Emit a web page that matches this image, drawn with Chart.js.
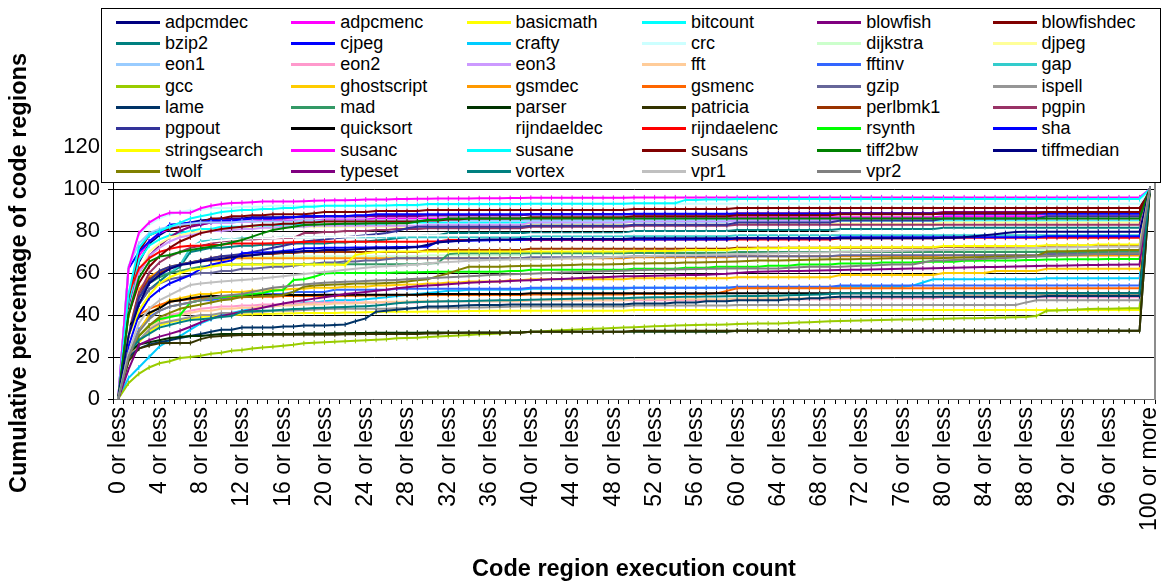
<!DOCTYPE html>
<html>
<head>
<meta charset="utf-8">
<script src="https://cdn.jsdelivr.net/npm/chart.js@4.4.1/dist/chart.umd.min.js"></script>
<style>
html,body{margin:0;padding:0;background:#fff;}
#wrap{position:relative;width:1163px;height:584px;font-family:"Liberation Sans",Arial,sans-serif;}
#c{position:absolute;left:0;top:0;}
#legend{position:absolute;left:101px;top:8px;width:1058px;height:173px;border:1px solid #000;background:#fff;z-index:2;}
.item{position:absolute;height:20px;line-height:20px;font-size:18px;color:#000;white-space:nowrap;}
.item .sw{position:absolute;left:0;top:9px;width:44px;height:3px;}
.item span{position:absolute;left:49px;top:0;}
</style>
</head>
<body>
<div id="wrap">
  <canvas id="c" width="1163" height="584"></canvas>
  <div id="legend"></div>
</div>
<script>
// Execution-count bins: "0 or less" ... "99 or less", then the open-ended top bin
const categories = [];
for (let k = 0; k < 100; k++) categories.push(k + ' or less');
categories.push('100 or more');

const yTicks = [0, 20, 40, 60, 80, 100, 120];

const seriesNames = ['adpcmdec','adpcmenc','basicmath','bitcount','blowfish','blowfishdec','bzip2','cjpeg','crafty','crc','dijkstra','djpeg','eon1','eon2','eon3','fft','fftinv','gap','gcc','ghostscript','gsmdec','gsmenc','gzip','ispell','lame','mad','parser','patricia','perlbmk1','pgpin','pgpout','quicksort','rijndaeldec','rijndaelenc','rsynth','sha','stringsearch','susanc','susane','susans','tiff2bw','tiffmedian','twolf','typeset','vortex','vpr1','vpr2'];

const seriesColors = ['#000080','#FF00FF','#FFFF00','#00FFFF','#800080','#800000','#008080','#0000FF','#00CCFF','#CCFFFF','#CCFFCC','#FFFF99','#99CCFF','#FF99CC','#CC99FF','#FFCC99','#3366FF','#33CCCC','#99CC00','#FFCC00','#FF9900','#FF6600','#666699','#969696','#003366','#339966','#003300','#333300','#993300','#993366','#333399','#000000','#FFFFFF','#FF0000','#00FF00','#0000FF','#FFFF00','#FF00FF','#00FFFF','#800000','#008000','#000080','#808000','#800080','#008080','#C0C0C0','#808080'];

// Cumulative percentage of code regions per bin, one array per benchmark
const adpcmdec = [
0,45,65,74,78,81,83,84,85,85.5,
86,86,86,86.5,86.5,86.5,86.5,86.5,87,87,
87,87,87,87,87,87.5,87.5,87.5,87.5,87.5,
87.5,87.5,87.5,87.5,87.5,87.5,87.5,87.5,87.5,87.5,
88,88,88,88,88,88,88,88,88,88,
88,88,88,88,88,88,88,88,88,88,
88,88,88,88,88,88,88,88,88,88,
88.5,88.5,88.5,88.5,88.5,88.5,88.5,88.5,88.5,88.5,
88.5,88.5,88.5,88.5,88.5,88.5,88.5,88.5,88.5,88.5,
88.5,88.5,88.5,88.5,88.5,88.5,88.5,88.5,88.5,88.5,
100];
const adpcmenc = [
0,45,68,75,79,81,82,83,83,84,
84,84,84.5,84.5,85,85,85,85,85,85,
85.5,85.5,85.5,85.5,85.5,86,86,86,86,86,
86,86,86,86,86,86,86,86,86,86,
86,86,86,86,86,86,86,86,86,86,
86.5,86.5,86.5,86.5,86.5,86.5,86.5,86.5,86.5,86.5,
86.5,86.5,86.5,86.5,86.5,86.5,86.5,86.5,86.5,86.5,
86.5,86.5,86.5,86.5,86.5,86.5,86.5,86.5,86.5,86.5,
87,87,87,87,87,87,87,87,87,87,
87,87,87,87,87,87,87,87,87,87,
100];
const basicmath = [
0,18,27,32,35,36.5,37.5,38.5,39,39.5,
40,40,40.2,40.4,40.5,40.6,40.7,40.8,40.9,41,
41,41,41.2,41.2,41.3,41.4,41.5,41.6,41.6,41.6,
41.7,41.7,41.8,41.8,41.9,41.9,42,42,42,42,
42,42,42,42,42,42,42,42,42,42,
42.4,42.4,42.4,42.4,42.4,42.4,42.4,42.4,42.4,42.4,
42.4,42.4,42.4,42.4,42.4,42.4,42.4,42.4,42.4,42.4,
42.4,42.4,42.4,42.4,42.4,42.4,42.4,42.4,42.4,42.4,
42.4,42.4,42.4,42.4,42.4,42.4,42.4,42.4,42.4,42.4,
42.4,42.4,42.4,42.4,42.4,42.4,42.4,42.4,42.4,42.4,
100];
const bitcount = [
0,45,66,73,76,78,79,80,81,81,
82,82,82,82.5,82.5,82.5,83,83,83,83,
83,83,83.5,83.5,83.5,83.5,83.5,84,84,84,
84,84,84,84,84,84,84,84,84,84,
84,84,84,84,84,84,84,84,84,84,
84.5,84.5,84.5,84.5,84.5,84.5,84.5,84.5,84.5,84.5,
85,85,85,85,85,85,85,85,85,85,
85,85,85,85,85,85,85,85,85,85,
85,85,85,85,85,85,85,85,85,85,
85,85,85,85,85,85,85,85,85,85,
100];
const blowfish = [
0,42,60,68,73,77,80,82,83,84,
85,85.5,85.5,86,86,86,86,86.5,86.5,86.5,
87,87,87,87,87,87,87,87,87,87,
87.5,87.5,87.5,87.5,87.5,87.5,87.5,87.5,87.5,87.5,
88,88,88,88,88,88,88,88,88,88,
88,88,88,88,88,88,88,88,88,88,
88.5,88.5,88.5,88.5,88.5,88.5,88.5,88.5,88.5,88.5,
88.5,88.5,88.5,88.5,88.5,88.5,88.5,88.5,88.5,88.5,
89,89,89,89,89,89,89,89,89,89,
89,89,89,89,89,89,89,89,89,89,
100];
const blowfishdec = [
0,48,70,78,80,81,82,83,84,86,
86,87,87,87.5,87.5,88,88,88,88,88.5,
89,89,89,89,89,89.5,89.5,89.5,89.5,89.5,
90,90,90,90,90,90,90,90,90,90,
90,90,90,90,90,90,90,90,90,90,
90.5,90.5,90.5,90.5,90.5,90.5,90.5,90.5,90.5,90.5,
91,91,91,91,91,91,91,91,91,91,
91,91,91,91,91,91,91,91,91,91,
91,91,91,91,91,91,91,91,91,91,
91,91,91,91,91,91,91,91,91,91,
100];
const bzip2 = [
0,30,45,52,56,60,63,70,71,72,
72,72.5,73,73,73.5,73.5,74,74,74,74,
74,74.5,74.5,75,75,75.5,76,76.5,77,77.5,
78,78,79,79,79,79,79,79,79,79,
79,79,79,79,79,79,79,79,79,79,
80,80,80,80,80,80,80,80,80,80,
80.5,80.5,80.5,80.5,80.5,80.5,80.5,80.5,80.5,80.5,
81,81,81,81,81,81,81,81,81,81,
81.5,81.5,81.5,81.5,81.5,81.5,81.5,81.5,81.5,81.5,
81.6,81.6,81.6,81.6,81.6,81.6,81.6,81.6,81.6,81.6,
100];
const cjpeg = [
0,62,70,75,79,83,83.5,84,84,85,
85,85,85.5,86,86,86,86.5,86.5,87,87,
87,87,87,87.5,87.5,88,88,88,88,88,
88,88,88,88,88,88,88,88,88,88,
88,88,88,88,88,88,88,88,88,88,
88.2,88.2,88.2,88.2,88.2,88.2,88.2,88.2,88.2,88.2,
88.2,88.2,88.2,88.2,88.2,88.2,88.2,88.2,88.2,88.2,
88.2,88.2,88.2,88.2,88.2,88.2,88.2,88.2,88.2,88.2,
88.2,88.2,88.2,88.2,88.2,88.2,88.2,88.2,88.2,88.2,
88.2,88.2,88.2,88.2,88.2,88.2,88.2,88.2,88.2,88.2,
100];
const crafty = [
0,10,15,20,25,28,30,33,36,38,
40,41,42,43,44,44,45,45,46,46,
46.5,47,47,47,47.5,48,48.5,49,49.5,50,
50.5,51,51.5,51.5,52,52,52,52,52,52,
52.5,52.5,52.5,52.5,52.5,52.5,52.5,52.5,52.5,52.5,
53,53,53,53,53,53,53,53,53,53,
53,53,53,53,53,53,53,53,53,53,
53.5,53.5,53.5,53.5,53.5,53.5,53.5,54,55.5,57,
57,57,57,57,57,57,57,57,57,57,
57.5,57.5,57.5,57.5,57.5,57.5,57.5,57.5,57.5,57.5,
100];
const crc = [
0,63,78,83,86,88,89,90,90,91,
91,91,91.5,91.5,91.5,92,92,92,92,92,
92,92,92,92,92,92,92,92,92,92,
92.5,92.5,92.5,92.5,92.5,92.5,92.5,92.5,92.5,92.5,
93,93,93,93,93,93,93,93,93,93,
93,93,93,93,93,93,93,93,93,93,
93,93,93,93,93,93,93,93,93,93,
93,93,93,93,93,93,93,93,93,93,
93,93,93,93,93,93,93,93,93,93,
93,93,93,93,93,93,93,93,93,93,
100];
const dijkstra = [
0,35,52,58,61,63,64,65,66,66,
67,67,67,67.5,67.5,67.5,68,68,68,68,
68,68,68,68,68,68,68,68,68,68,
68.5,68.5,68.5,68.5,68.5,68.5,68.5,68.5,68.5,68.5,
69,69,69,69,69,69,69,69,69,69,
70,70,70,70,70,70,70,70,70,70,
70,70,70,70,70,70,70,70,70,70,
70.5,70.5,70.5,70.5,70.5,70.5,70.5,70.5,70.5,70.5,
71,71,71,71,71,71,71,71,71,71,
71,71,71,71,71,71,71,71,71,71,
100];
const djpeg = [
0,40,60,70,74,77,78,79,80,80,
81,81,81,81.5,81.5,81.5,82,82,82,82,
82,82,82,82,82,82,82,82,82,82,
82.5,82.5,82.5,82.5,82.5,82.5,82.5,82.5,82.5,82.5,
83,83,83,83,83,83,83,83,83,83,
83,83,83,83,83,83,83,83,83,83,
83.5,83.5,83.5,83.5,83.5,83.5,83.5,83.5,83.5,83.5,
83.5,83.5,83.5,83.5,83.5,83.5,83.5,83.5,83.5,83.5,
84,84,84,84,84,84,84,84,84,84,
84,84,84,84,84,84,84,84,84,84,
100];
const eon1 = [
0,63,74,79,81,82,83,83.5,84,84,
84,84,84.5,84.5,84.5,84.5,84.5,84.5,85,85,
85,85,85,85,85,85,85,85,85,85,
85,85,85,85,85,85,85,85,85,85,
85,85,85,85,85,85,85,85,85,85,
85.5,85.5,85.5,85.5,85.5,85.5,85.5,85.5,85.5,85.5,
85.5,85.5,85.5,85.5,85.5,85.5,85.5,85.5,85.5,85.5,
85.5,85.5,85.5,85.5,85.5,85.5,85.5,85.5,85.5,85.5,
85.5,85.5,85.5,85.5,85.5,85.5,85.5,85.5,85.5,85.5,
85.5,85.5,85.5,85.5,85.5,85.5,85.5,85.5,85.5,85.5,
100];
const eon2 = [
0,20,30,35,38,40,41,42,43,43.5,
44,44,44.5,44.5,45,45,45,45.5,45.5,46,
46,46,46,46,46,46,46,46,46,46,
46.5,46.5,46.5,46.5,46.5,46.5,46.5,46.5,46.5,46.5,
47,47,47,47,47,47,47,47,47,47,
47,47,47,47,47,47,47,47,47,47,
47.5,47.5,47.5,47.5,47.5,47.5,47.5,47.5,47.5,47.5,
48,48,48,48,48,48,48,48,48,48,
48.5,48.5,48.5,48.5,48.5,48.5,48.5,48.5,48.5,48.5,
48.5,48.5,48.5,48.5,48.5,48.5,48.5,48.5,48.5,48.5,
100];
const eon3 = [
0,40,60,68,72,75,77,78,79,80,
80,80.5,81,81,81.5,81.5,82,82,82,82.5,
82.5,82.5,82.5,82.5,82.5,82.5,82.5,82.5,82.5,82.5,
83,83,83,83,83,83,83,83,83,83,
84,84,84,84,84,84,84,84,84,84,
84.5,84.5,84.5,84.5,84.5,84.5,84.5,84.5,84.5,84.5,
85,85,85,85,85,85,85,85,85,85,
85.5,85.5,85.5,85.5,85.5,85.5,85.5,85.5,85.5,85.5,
86,86,86,86,86,86,86,86,86,86,
86,86,86,86,86,86,86,86,86,86,
100];
const fft = [
0,20,30,34,37,39,40,41,42,42,
43,43,43.5,43.5,44,44,44.5,44.5,45,45,
45,45.5,45.5,45.5,46,46,46.3,46.3,46.3,46.5,
46.5,46.5,46.5,46.5,46.5,46.5,46.5,46.5,46.5,46.5,
47,47,47,47,47,47,47,47,47,47,
47.5,47.5,47.5,47.5,47.5,47.5,47.5,47.5,47.5,47.5,
48,48,48,48,48,48,48,48,48,48,
48.5,48.5,48.5,48.5,48.5,48.5,48.5,48.5,48.5,48.5,
49,49,49,49,49,49,49,49,49,49,
50,50,50,50,50,50,50,50,50,50,
100];
const fftinv = [
0,22,33,39,42,44,45,46,47,47,
48,48,49,49,50,50,50,51,51,51,
51,52,52,52,52,52,52,52.5,52.5,52.5,
52.5,52.5,52.5,52.5,52.5,52.5,52.5,52.5,52.5,52.5,
53,53,53,53,53,53,53,53,53,53,
53,53,53,53,53,53,53,53,53,53,
53.5,53.5,53.5,53.5,53.5,53.5,53.5,53.5,53.5,53.5,
54,54,54,54,54,54,54,54,54,54,
54,54,54,54,54,54,54,54,54,54,
54,54,54,54,54,54,54,54,54,54,
100];
const gap = [
0,35,50,56,59,60,63.8,72,75,75.5,
76,76,76.5,76.5,76.5,76.5,77,77,77,77,
77,77,77,77,77,77,77,77,77,77,
77,77,77,77,77,77,77,77,77,77,
77.5,77.5,77.5,77.5,77.5,77.5,77.5,77.5,77.5,77.5,
77.5,77.5,77.5,77.5,77.5,77.5,77.5,77.5,77.5,77.5,
78,78,78,78,78,78,78,78,78,78,
78,78,78,78,78,78,78,78,78,78,
78,78,78,78,78,78,78,78,78,78,
78,78,78,78,78,78,78,78,78,78,
100];
const gcc = [
0,7.5,12,15,17,18,19.5,20,20.6,21.5,
22,23,23.3,24,24.5,24.9,25.3,25.8,26.5,26.8,
27,27.3,27.5,27.7,28,28.2,28.5,28.9,29,29.2,
29.5,29.8,30,30.2,30.5,30.8,31,31.2,31.5,31.7,
32,32.2,32.5,32.7,33,33.2,33.4,33.6,33.8,34,
34.2,34.4,34.6,34.8,35,35.1,35.2,35.3,35.4,35.5,
35.7,35.8,36,36,36,36.2,36.4,36.6,36.8,37,
37.2,37.3,37.4,37.5,37.6,37.7,37.8,37.9,38,38.1,
38.2,38.3,38.4,38.5,38.6,38.7,38.8,38.9,39,39.5,
42,42.2,42.4,42.6,42.8,43,43,43.1,43.2,43.2,
100];
const ghostscript = [
0,20,32,40,44,47,48,49,50,50,
51,51,51,51.5,51.5,52,52,52.5,52.5,53,
53,53,53.5,53.5,53.5,54,54,54.3,54.5,54.5,
55,55,55.5,55.5,56,56,56,56,56.5,56.5,
57,57,57,57,57,57,57,57,57,57,
57.5,57.5,57.5,57.5,57.5,57.5,57.5,57.5,57.5,57.5,
58,58,58,58,58,58,58,58,58,58,
59,59,59,59,59,59,59,59,59,59,
60,60,60,60,60,61,61,61,61,61,
62,62,62,62,62,62,62,62,62,62,
100];
const gsmdec = [
0,38,52,58,61,63,64,65,66,66,
66,67,67,67,67,67,67,67,67,67,
67,67,67,67,67,67,67,67,67,67,
67,67,67,67,67,67,67,67,67,67,
67,67,67,67,67,67,67,67,67,67,
67.5,67.5,67.5,67.5,67.5,67.5,67.5,67.5,67.5,67.5,
68,68,68,68,68,68,68,68,68,68,
68,68,68,68,68,68,68,68,68,68,
68.3,68.3,68.3,68.3,68.3,68.3,68.3,68.3,68.3,68.3,
68.3,68.3,68.3,68.3,68.3,68.3,68.3,68.3,68.3,68.3,
100];
const gsmenc = [
0,36,40,43,44.8,46.3,47,47.5,48,48,
48.5,48.5,48.5,48.7,48.7,48.7,49,49,49,49,
49,49,49.2,49.2,49.3,49.3,49.4,49.5,49.5,49.5,
49.5,49.5,49.5,49.5,49.5,49.5,49.5,49.5,49.5,49.5,
49.8,49.8,49.8,49.8,49.8,49.8,49.8,49.8,49.8,49.8,
50,50,50,50,50,50,50,50,50.3,51.5,
52.7,52.7,52.7,52.7,52.7,52.7,52.7,52.7,52.7,52.7,
52.7,52.7,52.7,52.7,52.7,52.7,52.7,52.7,52.7,52.7,
52.7,52.7,52.7,52.7,52.7,52.7,52.7,52.7,52.7,52.7,
52.7,52.7,52.7,52.7,52.7,52.7,52.7,52.7,52.7,52.7,
100];
const gzip = [
0,30,45,52,55,57,58,59,60,60,
61,61,62,62,62.5,63,63,63.5,64,64.5,
65,65,65.5,65.5,66,66,66.5,67,67,67,
67,67,67,67,67,67,67,67,67,67,
67.5,67.5,67.5,67.5,67.5,67.5,67.5,67.5,67.5,67.5,
68,68,68,68,68,68,68,68,68,68,
68,68,68,68,68,68,68,68,68,68,
68.5,68.5,68.5,68.5,68.5,68.5,68.5,68.5,68.5,68.5,
68.5,68.5,68.5,68.5,68.5,68.5,68.5,68.5,68.5,68.5,
69,69,69,69,69,69,69,69,69,69,
100];
const ispell = [
0,18,28,33,36,37,38,39,40,40,
41,41,41.2,41.4,41.6,42,42,42.2,42.4,42.6,
42.8,43,43,43,43,43,43,43.2,43.2,43.2,
43.4,43.4,43.5,43.5,43.6,43.6,43.7,43.8,43.9,44,
44,44,44,44,44,44,44,44,44,44,
44.5,44.5,44.5,44.5,44.5,44.5,44.5,44.5,44.5,44.5,
44.8,44.8,44.8,44.8,44.8,44.8,44.8,44.8,44.8,44.8,
44.8,44.8,44.8,44.8,44.8,44.8,44.8,44.8,44.8,44.8,
44.8,44.8,44.8,44.8,44.8,44.8,44.8,44.8,46,47,
47,47,47,47,47,47,47,47,47,47,
100];
const lame = [
0,20,24,26,27,28,29,30,31,32,
33,33,34,34,34,34,34.5,34.5,35,35,
35,35.2,35.5,37,38.4,41.6,42,42.5,43,43.5,
44,44,44.2,44.4,44.6,44.8,44.8,44.8,45,45,
45,45,45,45,45,45,45,45,45,45,
45.5,45.5,45.5,45.5,46,46,46,46.5,46.5,46.5,
47,47,47,47,47,47.5,47.5,48,48,48.5,
48.7,48.7,48.7,48.7,48.7,48.7,48.7,48.7,48.7,48.7,
48.7,48.7,48.7,48.7,48.7,48.7,48.7,48.7,48.7,48.7,
49,49,49,49,49,49,49,49,49,49,
100];
const mad = [
0,32,48,55,58,60,61,62,63,63.5,
63.8,64,64,64.2,64.2,64.2,64.2,64.2,64.2,64.2,
64.2,64.2,64.2,64.2,64.2,64.2,64.2,64.2,64.2,64.2,
64.5,64.8,69,69.4,69.4,69.4,69.4,69.4,69.4,69.4,
69.5,69.5,69.5,69.5,69.5,69.5,69.5,69.5,69.5,69.5,
69.5,69.5,69.5,69.5,69.5,69.5,69.5,69.5,69.5,69.5,
70,70,70,70,70,70,70,70,70,70,
70,70,70,70,70,70,70,70,70,70,
70,70,70,70,70,70,70,70,70,70,
70,70,70,70,70,70,70,70,70,70,
100];
const parser = [
0,22,26,27,28,29,29.5,30,30,30.5,
31,31,31,31,31,31,31,31,31.2,31.2,
31.2,31.3,31.3,31.4,31.4,31.5,31.5,31.5,31.6,31.6,
31.7,31.7,31.7,31.7,31.7,31.7,31.7,31.7,31.7,31.7,
32,32,32,32,32,32,32,32,32,32,
32,32,32,32,32,32,32,32,32,32,
32.5,32.5,32.5,32.5,32.5,32.5,32.5,32.5,32.5,32.5,
32.5,32.5,32.5,32.5,32.5,32.5,32.5,32.5,32.5,32.5,
32.5,32.5,32.5,32.5,32.5,32.5,32.5,32.5,32.5,32.5,
32.5,32.5,32.5,32.5,32.5,32.5,32.5,32.5,32.5,32.5,
100];
const patricia = [
0,18,24,25.5,26.5,26.7,26.7,26.7,28.5,29.7,
30,30.2,30.5,30.5,30.6,30.6,30.6,30.6,30.6,30.6,
30.6,30.6,30.8,30.8,31,31,31,31,31,31,
31.2,31.2,31.4,31.4,31.5,31.5,31.5,31.5,31.5,31.5,
32,32,32,32,32,32,32,32,32,32,
32.5,32.5,32.5,32.5,32.5,32.5,32.5,32.5,32.5,32.5,
32.5,32.5,32.5,32.5,32.5,32.5,32.5,32.5,32.5,32.5,
32.5,32.5,32.5,32.5,32.5,32.5,32.5,32.5,32.5,32.5,
32.5,32.5,32.5,32.5,32.5,32.5,32.5,32.5,32.5,32.5,
32.5,32.5,32.5,32.5,32.5,32.5,32.5,32.5,32.5,32.5,
100];
const perlbmk1 = [
0,35,50,57,60,62,64,65,66,67,
68,68,68.5,68.5,69,69,69.5,69.5,70,70,
70,70,70,70,70,70,70,70,70,70,
71,71,71,71,71,71,71,71,71,71,
71.5,71.5,71.5,71.5,71.5,71.5,71.5,71.5,71.5,71.5,
71.5,71.5,71.5,71.5,71.5,71.5,71.5,71.5,71.5,71.5,
72,72,72,72,72,72,72,72,72,72,
72,72,72,72,72,72,72,72,72,72,
72.5,72.5,72.5,72.5,72.5,72.5,72.5,72.5,72.5,72.5,
73,73,73,73,73,73,73,73,73,73,
100];
const pgpin = [
0,30,50,60,65,68,70,72,73,74,
75,75.5,76,76,76.3,76.5,76.7,76.7,79,79,
79.5,79.5,80,80,80,80.5,80.5,81,81,81,
81.3,81.3,81.3,81.3,81.3,81.3,81.3,81.3,81.3,81.3,
82,82,82,82,82,82,82,82,82,82,
82.5,82.5,82.5,82.5,82.5,82.5,82.5,82.5,82.5,82.5,
83,83,83,83,83,83,83,83,83,83,
83,83,83,83,83,83,83,83,83,83,
83,83,83,83,83,83,83,83,83,83,
83,83,83,83,83,83,83,83,83,83,
100];
const pgpout = [
0,30,48,56,61,63,64,65,66,67,
68,68.5,69,70,71,72,73,74,75,75.5,
76,76.5,77,77.5,78,78.5,79,80,81.3,82,
82,82,82,82,82,82,82,82,82,82,
82.5,82.5,82.5,82.5,82.5,82.5,82.5,82.5,82.5,82.5,
83,83,83,83,83,83,83,83,83,83,
84,84,84,84,84,84,84,84,84,84,
85,85,85,85,85,85,85,85,85,85,
86,86,86,86,86,86,86,86,86,86,
87,87,87,87,87,87,87,87,87,87,
100];
const quicksort = [
0,35,39,41,43.2,46.3,47,48,48.7,49,
49,49,49.5,49.5,49.5,49.5,49.5,49.5,49.5,49.5,
49.7,49.7,49.7,49.7,49.7,49.7,49.7,49.7,49.7,49.7,
50,50,50,50,50,50,50,50,50,50,
50.3,50.3,50.3,50.3,50.3,50.3,50.3,50.3,50.3,50.3,
50.3,50.3,50.3,50.3,50.3,50.3,50.3,50.3,50.3,50.3,
50.3,50.3,50.3,50.3,50.3,50.3,50.3,50.3,50.3,50.3,
50.3,50.3,50.3,50.3,50.3,50.3,50.3,50.3,50.3,50.3,
50.3,50.3,50.3,50.3,50.3,50.3,50.3,50.3,50.3,50.3,
50.3,50.3,50.3,50.3,50.3,50.3,50.3,50.3,50.3,50.3,
100];
const rijndaeldec = [
0,35,55,63,67,70,72,73,74,75,
75.5,76,76,76.5,76.5,76.5,77,77,77,77,
77,77,77.3,77.3,77.5,77.5,77.5,77.8,77.8,77.8,
78,78,78,78,78,78,78,78,78,78,
78.5,78.5,78.5,78.5,78.5,78.5,78.5,78.5,78.5,78.5,
79,79,79,79,79,79,79,79,79,79,
79,79,79,79,79,79,79,79,79,79,
79.5,79.5,79.5,79.5,79.5,79.5,79.5,79.5,79.5,79.5,
80,80,80,80,80,80,80,80,80,80,
80,80,80,80,80,80,80,80,80,80,
100];
const rijndaelenc = [
0,50,62,67,70,71.5,72.5,73,73,73.3,
73.5,74,74,74,74,74.2,74.4,74.6,74.8,74.9,
74.9,74.9,74.9,74.9,74.9,74.9,74.9,74.9,74.9,74.9,
75,75,75.7,75.7,75.7,75.7,75.7,75.7,75.7,75.7,
75.7,75.7,75.7,75.7,75.7,75.7,75.7,75.7,75.7,75.7,
76,76,76,76,76,76,76,76,76,76,
76,76,76,76,76,76,76,76,76,76,
76.5,76.5,76.5,76.5,76.5,76.5,76.5,76.5,76.5,76.5,
76.8,76.8,76.8,76.8,76.8,76.8,76.8,76.8,76.8,76.8,
76.8,76.8,76.8,76.8,76.8,76.8,76.8,76.8,76.8,76.8,
100];
const rsynth = [
0,22,30,35,38,39,40,46,47,48,
48.5,49,49.5,50,50.5,51.5,51.9,56.7,57,58.2,
59.8,60,60,60,60,60,60,60.2,60.2,60.4,
60.5,60.6,60.6,60.6,60.6,60.6,60.6,60.6,61,61,
61.5,61.5,61.5,61.5,61.5,61.5,61.5,61.5,61.5,61.5,
62,62,62,62,62,62.5,62.5,62.5,63,63,
63,63,63,63.5,63.5,63.5,64,64,64,64,
64.5,64.5,64.5,64.5,65,65,65,65,65.4,65.4,
65.4,65.4,65.8,65.8,66,66,66,66,66.2,66.2,
66.4,66.4,66.5,66.5,66.6,66.6,66.7,66.7,66.7,66.7,
100];
const sha = [
0,25,40,48,52,55,57,59,62,64,
65,66,69.4,69.6,69.8,70,70.5,71,71.8,71.8,
72,72,72,72.2,72.2,72.3,72.3,72.4,72.4,72.5,
72.5,74.9,75,75.2,75.4,75.5,75.6,75.7,75.7,75.7,
76,76,76,76,76,76,76,76,76,76,
76,76,76,76,76,76,76,76,76,76,
76.5,76.5,76.5,76.5,76.5,76.5,76.5,76.5,76.5,76.5,
77,77,77,77,77,77,77,77,77,77,
77,77,77,77,77,77,77,77,77,77,
77.5,77.5,77.5,77.5,77.5,77.5,77.5,77.5,77.5,77.5,
100];
const stringsearch = [
0,30,42,49.5,55,58,60,61.4,62,63,
63.8,64,64,64,64,64,64,64,64,64,
64,64,63.8,68.6,69.4,70,70.2,70.2,70.2,70.2,
70.2,70.2,70.2,70.2,70.2,70.2,70.2,70.2,70.2,70.2,
70.2,70.2,70.2,70.2,70.2,70.2,70.2,70.2,70.2,70.2,
70.5,70.5,70.5,70.5,70.5,71,71,71,71,71,
71.5,71.5,71.8,71.8,71.8,72,72,72,72,72,
72.3,72.3,72.3,72.3,72.3,72.3,72.3,72.3,72.3,72.3,
72.9,72.9,72.9,72.9,72.9,72.9,72.9,72.9,72.9,72.9,
73.2,73.2,73.2,73.2,73.2,73.6,73.6,73.6,73.6,73.6,
100];
const susanc = [
0,62,79,84,87,88.7,88.7,88.7,90.8,92,
92.9,93.3,93.5,93.7,94,94,94,94,94.2,94.4,
94.5,94.6,94.7,94.8,95,95,95,95.2,95.2,95.3,
95.4,95.5,95.5,95.5,95.5,95.6,95.6,95.6,95.7,95.7,
95.8,95.8,95.8,95.8,95.8,95.8,95.8,95.8,95.8,95.8,
96,96,96,96,96,96,96,96,96,96,
96,96,96,96,96,96,96,96,96,96,
96,96,96,96,96,96,96,96,96,96,
96,96,96,96,96,96,96,96,96,96,
96,96,96,96,96,96,96,96,96,96,
100];
const susane = [
0,50,72,78,80,82,84,86,87,88,
89,89.5,90,90,90.5,90.5,91,91,91.5,91.5,
92,92,92,92,92,92.2,92.2,92.4,92.4,92.4,
92.8,92.8,92.8,92.8,92.8,92.8,92.8,92.8,92.8,92.8,
93,93,93,93,93,93,93,93,93,93,
93.2,93.2,93.2,93.2,93.2,94.8,94.8,95,95,95,
95.2,95.2,95.2,95.2,95.2,95.2,95.2,95.2,95.2,95.2,
95.2,95.2,95.2,95.2,95.2,95.2,95.2,95.2,95.2,95.2,
95.2,95.2,95.2,95.2,95.2,95.2,95.2,95.2,95.2,95.2,
95.2,95.2,95.2,95.2,95.2,95.2,95.2,95.2,95.2,95.2,
100];
const susans = [
0,40,55,63,68,72,75,77,79,80,
81,81.5,82,82.5,83,83,83.5,83.5,84,84,
84.5,84.5,84.5,84.5,84.5,84.5,84.5,84.5,84.5,84.5,
85,85,85.5,85.5,86,86,86,86,86,86,
86.5,86.5,86.5,86.5,86.5,86.5,86.5,86.5,86.5,86.5,
87,87,87,87,87,87,87,87,87,87,
87.5,87.5,87.5,87.5,87.5,87.5,87.5,87.5,87.5,87.5,
88,88,88,88,88,88,88,88,88,88,
88.5,88.5,88.5,88.5,88.5,88.5,88.5,88.5,88.5,88.5,
89,89,89,89,89,89,89,89,89,89,
100];
const tiff2bw = [
0,40,57.5,65.4,67.8,68.6,70,71,71.8,72.5,
73.5,74.5,75.7,77.3,79,80.5,81.3,82,82.9,83,
83.2,83.3,83.4,83.5,83.6,83.7,83.7,83.7,83.7,84.5,
85.2,85.2,86,86,86,86,86,86,86,86,
86,86,86,86,86,86,86,86,86,86,
86,86,86,86,86,86,86,86,86,86,
86,86,86,86,86,86,86,86,86,86,
86,86,86,86,86,86,86,86,86,86,
86,86,86,86,86,86,86,86,86,86,
86,86,86,86,86,86,86,86,86,86,
100];
const tiffmedian = [
0,30,45,55,59,62,63.8,64.5,65.5,66.2,
66.8,67.5,68,68.5,69,69.5,70,70,70.5,70.5,
71,71,71,71.3,71.5,71.8,71.8,71.8,72,72.4,
73.5,74.5,75,75.4,75.6,75.8,76,76,76,76.2,
76.2,76.2,76.2,76.2,76.2,76.2,76.2,76.2,76.2,76.2,
76.5,76.5,76.5,76.5,76.5,76.5,76.5,76.5,76.5,76.5,
76.5,76.5,76.5,76.5,76.5,76.5,76.5,76.5,76.5,76.5,
76.5,76.5,76.5,76.5,76.5,76.5,76.5,76.5,76.5,76.5,
76.8,76.8,77,77.5,78,78.5,79,79.5,79.7,79.7,
79.7,79.7,79.7,79.7,79.7,79.7,79.7,79.7,79.7,79.7,
100];
const twolf = [
0,20,30,35,39,41,43,44,45,46,
47,47.5,48.7,48.7,49,49.3,49.5,51,53.5,54,
54.3,54.5,54.7,55,55,55,55.2,55.5,56,56.5,
57,58.5,59.8,61.5,63,63,63,63,63.2,63.3,
63.5,63.5,63.6,63.7,63.8,64,64,64.1,64.2,64.3,
64.5,64.5,64.6,64.7,64.8,65,65,65.1,65.2,65.3,
65.5,65.7,65.9,66,66,66.1,66.2,66.3,66.4,66.5,
66.5,66.6,66.7,66.8,66.9,67,67,67,67,67,
67.2,67.3,67.4,67.5,67.6,67.7,67.8,67.9,68,68,
70.2,70.3,70.4,70.5,70.6,70.7,70.8,70.9,71,71,
100];
const typeset = [
0,14,25.7,28,29.7,31,32.5,34.4,36.5,38.4,
39.5,40.5,41.6,42.5,43.5,44.5,45.5,46.3,47,47.8,
48.5,49.2,50,50.5,51,51.5,52,52.7,53.2,53.7,
54,54.3,54.6,55,55.3,55.6,55.8,56,56.2,56.4,
56.6,56.8,57,57.2,57.4,57.6,57.8,58,58.2,58.4,
58.5,58.6,58.7,58.8,58.9,59,59.1,59.2,59.4,59.6,
60,60.3,60.6,60.7,60.8,60.9,61,61.1,61.2,61.3,
61.4,61.5,61.6,61.7,61.8,61.9,62,62.1,62.2,62.3,
62.4,62.5,62.6,62.7,62.8,62.9,63,63.1,63.2,63.3,
63.4,63.5,63.6,63.7,63.8,63.8,63.9,63.9,64,64,
100];
const vortex = [
0,22,28,31,34,35.2,36.5,37.6,38,38.5,
39,39.5,41.6,41.8,42,42.2,42.5,42.8,43,43.3,
43.5,43.7,43.8,44,44.2,44.5,45,45.6,46,46.2,
46.3,46.4,46.5,46.6,46.7,46.8,46.9,47,47,47.2,
47.3,47.4,47.5,47.6,47.7,47.8,47.9,48,48,48,
48.2,48.3,48.4,48.5,48.6,48.7,48.7,48.8,48.8,48.9,
49,49,49,49.2,49.2,49.4,49.5,49.7,49.8,50,
50.3,50.3,50.3,50.3,50.3,50.3,50.3,50.3,50.3,50.3,
50.3,50.3,50.3,50.3,50.3,50.3,50.3,50.3,50.3,50.3,
50.3,50.3,50.3,50.3,50.3,50.3,50.3,50.3,50.3,50.3,
100];
const vpr1 = [
0,22,36,43,47,49.5,52,54.3,55,55.5,
56,56.3,56.7,57,57.5,58,58.5,59,59.5,60,
60.5,61,61.5,62,62.5,63,63.2,63.5,63.8,64,
64.5,65,65.2,65.5,65.8,66,66.2,66.3,66.4,66.5,
66.6,66.7,66.8,66.9,67,67,67.2,67.4,67.6,67.8,
68,68,68.2,68.3,68.4,68.5,68.6,68.7,68.8,68.9,
69,69,69.2,69.3,69.4,69.5,69.6,69.7,69.8,69.9,
70,70.1,70.2,70.3,70.4,70.5,70.6,70.7,70.8,70.9,
71,71.1,71.2,71.3,71.4,71.5,71.6,71.7,71.8,71.9,
72,72.1,72.2,72.3,72.4,72.5,72.5,72.5,72.5,72.5,
100];
const vpr2 = [
0,20,32,38,42,44,45,46,47,48,
49,49.5,50,51,52,53,53.5,54,54.5,55,
55.3,55.6,55.8,56,56.2,56.4,56.5,56.7,57,57.3,
57.5,57.7,58,58.2,58.5,58.7,59,59.2,59.4,59.5,
59.7,59.9,60,60.2,60.4,60.5,60.7,60.8,61,61.1,
61.3,61.4,61.5,61.6,61.7,61.8,61.9,62,62,62.1,
62.1,62.1,62.2,62.2,62.2,62.5,62.7,63,63,63,
63,63.2,63.4,63.6,63.8,64,64,64,65,66,
66,66.2,66.4,66.6,66.8,67,67.2,67.4,67.6,67.8,
68,68.2,68.4,68.6,68.8,69,69.2,69.4,69.4,69.4,
100];

const seriesValues = [adpcmdec, adpcmenc, basicmath, bitcount, blowfish, blowfishdec, bzip2, cjpeg, crafty, crc, dijkstra, djpeg, eon1, eon2, eon3, fft, fftinv, gap, gcc, ghostscript, gsmdec, gsmenc, gzip, ispell, lame, mad, parser, patricia, perlbmk1, pgpin, pgpout, quicksort, rijndaeldec, rijndaelenc, rsynth, sha, stringsearch, susanc, susane, susans, tiff2bw, tiffmedian, twolf, typeset, vortex, vpr1, vpr2];

const FONT = '"Liberation Sans", Arial, sans-serif';
const N = seriesNames.length;

// Later series are painted over earlier ones
const datasets = seriesNames.map((name, i) => ({
  label: name,
  data: seriesValues[i],
  borderColor: seriesColors[i],
  backgroundColor: seriesColors[i],
  borderWidth: 2,
  tension: 0,
  fill: false,
  pointStyle: 'line',
  pointRotation: 90,
  pointRadius: 2.5,
  pointBorderWidth: 1,
  pointBorderColor: seriesColors[i],
  pointHoverRadius: 0,
  order: N - 1 - i
}));

// Right-hand plot frame and the two axis titles
const frameAndTitles = {
  id: 'frameAndTitles',
  beforeDatasetsDraw(chart) {
    const {ctx, chartArea: a} = chart;
    ctx.save();
    ctx.strokeStyle = '#8c8c8c';
    ctx.lineWidth = 2;
    ctx.beginPath();
    ctx.moveTo(a.right, a.top);
    ctx.lineTo(a.right, a.bottom + 1);
    ctx.stroke();
    ctx.restore();
  },
  afterDraw(chart) {
    const {ctx, chartArea: a} = chart;
    ctx.save();
    ctx.fillStyle = '#000';
    ctx.font = 'bold 23.5px ' + FONT;
    ctx.textAlign = 'center';
    ctx.textBaseline = 'middle';
    ctx.fillText('Code region execution count', (a.left + a.right) / 2, 570);
    ctx.translate(20, (a.top + a.bottom) / 2);
    ctx.rotate(-Math.PI / 2);
    ctx.fillText('Cumulative percentage of code regions', 0, 0);
    ctx.restore();
  }
};

new Chart(document.getElementById('c'), {
  type: 'line',
  data: { labels: categories, datasets },
  plugins: [frameAndTitles],
  options: {
    responsive: false,
    animation: false,
    devicePixelRatio: 1,
    layout: { padding: { top: 147, right: 8, left: 0, bottom: 0 } },
    plugins: { legend: { display: false }, tooltip: { enabled: false } },
    events: [],
    scales: {
      x: {
        type: 'category',
        offset: true,
        grid: { display: true, drawOnChartArea: false, drawTicks: true, tickLength: 5, color: '#000', offset: true },
        border: { display: true, color: '#6e6e6e', width: 1 },
        ticks: {
          autoSkip: false,
          minRotation: 90,
          maxRotation: 90,
          padding: 3,
          color: '#000',
          font: { family: FONT, size: 23 },
          callback: (v, i) => (i % 4 === 0 ? categories[i] : '')
        },
        afterFit: s => { s.height = 185; s.paddingLeft = 0; s.paddingRight = 0; }
      },
      y: {
        min: yTicks[0],
        max: yTicks[yTicks.length - 1],
        afterBuildTicks: s => { s.ticks = yTicks.map(v => ({ value: v })); },
        grid: { color: '#000', lineWidth: 1, drawTicks: true, tickLength: 5 },
        border: { display: true, color: '#000', width: 1 },
        ticks: { color: '#000', padding: 8, font: { family: FONT, size: 22 } },
        afterFit: s => { s.width = 113; s.paddingTop = 0; s.paddingBottom = 0; }
      }
    }
  }
});

// Legend: six fixed columns in a framed box
const legendBox = document.getElementById('legend');
seriesNames.forEach((name, i) => {
  const col = i % 6, row = Math.floor(i / 6);
  const it = document.createElement('div');
  it.className = 'item';
  it.style.left = (116 + col * 175.3 - 102) + 'px';
  it.style.top = (21.7 + row * 21.3 - 10 - 9) + 'px';
  const sw = document.createElement('div');
  sw.className = 'sw';
  sw.style.background = seriesColors[i];
  const tx = document.createElement('span');
  tx.textContent = name;
  it.appendChild(sw);
  it.appendChild(tx);
  legendBox.appendChild(it);
});
</script>
</body>
</html>
